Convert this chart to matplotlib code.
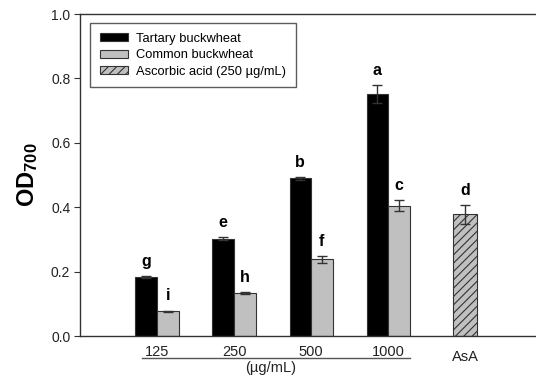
import matplotlib
matplotlib.use("Agg")
import matplotlib.pyplot as plt
from matplotlib.patches import Patch
from matplotlib.lines import Line2D
import numpy as np

plt.rcParams['font.family'] = ['Liberation Sans', 'DejaVu Sans']
plt.rcParams['mathtext.fontset'] = 'custom'
plt.rcParams['mathtext.rm'] = 'Liberation Sans'
plt.rcParams['mathtext.bf'] = 'Liberation Sans:bold'
plt.rcParams['hatch.linewidth'] = 0.8

concentrations = ["125", "250", "500", "1000"]
tartary = [0.184, 0.302, 0.490, 0.752]
tartary_err = [0.003, 0.005, 0.005, 0.027]
common = [0.077, 0.133, 0.238, 0.405]
common_err = [0.002, 0.003, 0.010, 0.018]
asa_value = 0.378
asa_err = 0.029
tartary_letters = ["g", "e", "b", "a"]
common_letters = ["i", "h", "f", "c"]
asa_letter = "d"

fig = plt.figure(figsize=(5.36, 3.78), dpi=100)
ax = fig.add_axes([80/536, 42/378, 456/536, 322/378])

x = np.arange(len(concentrations))
w = 0.28
edge = "#333333"
err_kw = dict(ecolor="#333333", elinewidth=1.0, capsize=3.5, capthick=1.0)

ax.bar(x - w/2, tartary, w, color="black", edgecolor=edge, linewidth=0.8,
       yerr=tartary_err, error_kw=err_kw, label="Tartary buckwheat")
ax.bar(x + w/2, common, w, color="#c0c0c0", edgecolor=edge, linewidth=0.8,
       yerr=common_err, error_kw=err_kw, label="Common buckwheat")
ax.bar([4], [asa_value], 0.32, color="#c0c0c0", edgecolor=edge, linewidth=0.8,
       hatch="////", yerr=[asa_err], error_kw=err_kw,
       label="Ascorbic acid (250 \u00b5g/mL)")

# significance letters
for xi, v, e, t in zip(x - w/2, tartary, tartary_err, tartary_letters):
    ax.text(xi, v + e + 0.022, t, ha="center", va="bottom",
            fontsize=11.5, fontweight="bold")
for xi, v, e, t in zip(x + w/2, common, common_err, common_letters):
    ax.text(xi, v + e + 0.022, t, ha="center", va="bottom",
            fontsize=11.5, fontweight="bold")
ax.text(4, asa_value + asa_err + 0.022, asa_letter, ha="center", va="bottom",
        fontsize=11.5, fontweight="bold")

ax.set_xlim(-1.0, 4.92)
ax.set_ylim(0, 1.0)
ax.set_yticks(np.arange(0, 1.01, 0.2))
ax.set_yticklabels([f"{v:.1f}" for v in np.arange(0, 1.01, 0.2)], fontsize=10,
                   color="#222222")
ax.set_xticks([])
for s in ["left", "bottom", "top"]:
    ax.spines[s].set_color("#333333")
    ax.spines[s].set_linewidth(1.0)
ax.spines["right"].set_visible(False)
ax.tick_params(axis="y", direction="out", length=4, color="#333333", pad=3)

# concentration labels with underline
for xi, lab in zip(x, concentrations):
    ax.text(xi, -0.028, lab, ha="center", va="top", fontsize=10.5,
            transform=ax.get_xaxis_transform(), color="#222222")
ax.text(4, -0.045, "AsA", ha="center", va="top", fontsize=10.5,
        transform=ax.get_xaxis_transform(), color="#222222")
ax.add_line(Line2D([-0.2, 3.28], [-0.067, -0.067], color="#555555", lw=1.0,
                   transform=ax.get_xaxis_transform(), clip_on=False))
ax.text(1.47, -0.077, "(\u00b5g/mL)", ha="center", va="top", fontsize=10.5,
        transform=ax.get_xaxis_transform(), color="#222222")

ax.set_ylabel(r"$\mathbf{OD_{700}}$", fontsize=17, labelpad=8)

handles = [
    Patch(facecolor="black", edgecolor=edge, linewidth=0.8),
    Patch(facecolor="#c0c0c0", edgecolor=edge, linewidth=0.8),
    Patch(facecolor="#c0c0c0", edgecolor=edge, linewidth=0.8, hatch="////"),
]
labels = ["Tartary buckwheat", "Common buckwheat", "Ascorbic acid (250 \u00b5g/mL)"]
leg = ax.legend(handles, labels, loc="upper left", bbox_to_anchor=(0.022, 0.972),
                fontsize=9.3, frameon=True, fancybox=False, edgecolor="#333333",
                handlelength=2.2, handleheight=0.6, handletextpad=0.6,
                labelspacing=0.35, borderpad=0.75, borderaxespad=0)
leg.get_frame().set_linewidth(1.0)

fig.savefig("out.png", dpi=100)
